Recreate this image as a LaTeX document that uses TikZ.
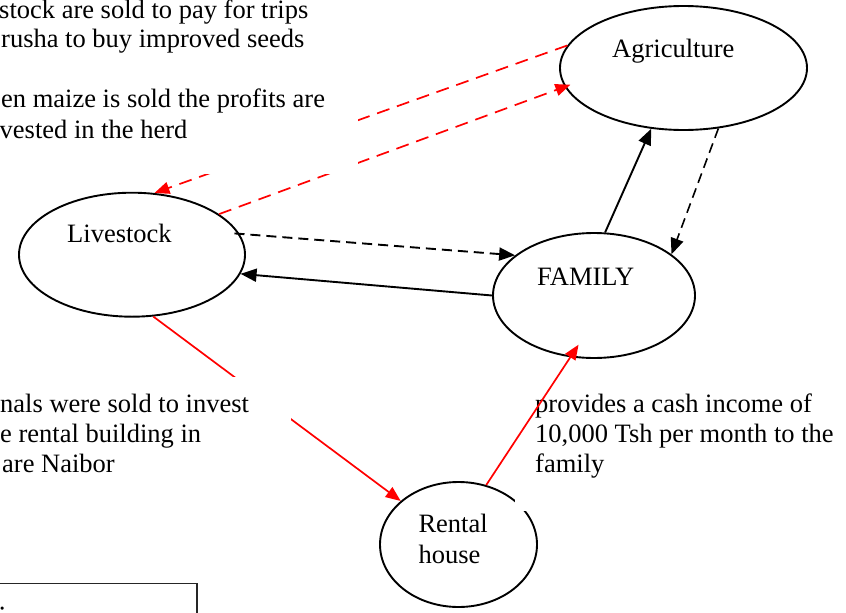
\documentclass[tikz,border=0pt]{standalone}
\usepackage{fontspec}
\setmainfont{Liberation Serif}
\usetikzlibrary{shapes.geometric,arrows.meta}
\begin{document}
\begin{tikzpicture}[x=1pt,y=-1pt,
  every node/.style={font=\fontsize{26.5}{30.5}\selectfont, inner sep=0pt},
  blob/.style={ellipse, draw, line width=1.9pt, inner sep=0pt},
  txt/.style={anchor=base west},
  redline/.style={red, line width=1.7pt, -{Triangle[length=15pt,width=12pt]}},
  blkline/.style={black, line width=1.9pt, -{Triangle[length=16pt,width=13pt]}},
  reddash/.style={dash pattern=on 13pt off 8pt},
  blkdash/.style={dash pattern=on 10pt off 6pt},
  mask/.style={fill=white}
]
\useasboundingbox (0,0) rectangle (846,613);
\clip (0,0) rectangle (846,613);

% the four activities
\node[blob, minimum width=247pt, minimum height=124pt] (agri) at (683.5,68) {};
\node[blob, minimum width=226pt, minimum height=124pt] (live) at (132,254.7) {};
\node[blob, minimum width=202pt, minimum height=125pt] (fam) at (594,295.5) {};
\node[blob, minimum width=157pt, minimum height=125pt] (rent) at (458.5,544.5) {};

% red flows that run behind the text boxes
\draw[redline, reddash] (agri.169) -- (live.70);
\draw[redline, reddash, shorten >=-6pt] (live.25) -- (agri.189);
\draw[redline] (live.-71) -- (rent.143);

% white text boxes
\fill[mask] (-10,-10) rectangle (358,174);
\fill[mask] (-10,377) rectangle (290.7,495);
\fill[mask] (515,385) rectangle (845,511);

% labels inside the ellipses
\node[txt] (agrit) at (612,57.3) {Agriculture};
\node[txt] (livet) at (67,242.7) {Livestock};
\node[txt] (famt) at (537,285) {FAMILY};
\node[txt] (rentt1) at (418.3,532.7) {Rental};
\node[txt] (rentt2) at (418.3,563.3) {house};

% notes
\node[txt] (na1) at (-1,18.6) {stock are sold to pay for trips};
\node[txt] (na2) at (1,47.8) {rusha to buy improved seeds};
\node[txt] (na3) at (1,107.8) {en maize is sold the profits are};
\node[txt] (na4) at (-0.5,138) {vested in the herd};

\node[txt] (nb1) at (0,412) {nals were sold to invest};
\node[txt] (nb2) at (0,442) {e rental building in};
\node[txt] (nb3) at (2,472) {are Naibor};

\node[txt] (nc1) at (535,412) {provides a cash income of};
\node[txt] (nc2) at (535,442.5) {10,000 Tsh per month to the};
\node[txt] (nc3) at (535,472) {family};

% key box at the bottom left
\draw[line width=1.8pt, black!85] (-10,583.5) rectangle (197,640);
\node[txt] (key) at (-1.5,619) {:};

% black flows
\draw[blkline, blkdash, shorten <=-5pt] (live.11) -- (fam.153);
\draw[blkline] (fam.180) -- (live.-10);
\draw[blkline] (fam.80) -- (agri.242);
\draw[blkline, blkdash, line width=1.6pt] (agri.-60) -- (fam.28);

% rent income on top of its note
\draw[redline, shorten >=-15pt] (rent.65) -- (fam.249);
\end{tikzpicture}
\end{document}
